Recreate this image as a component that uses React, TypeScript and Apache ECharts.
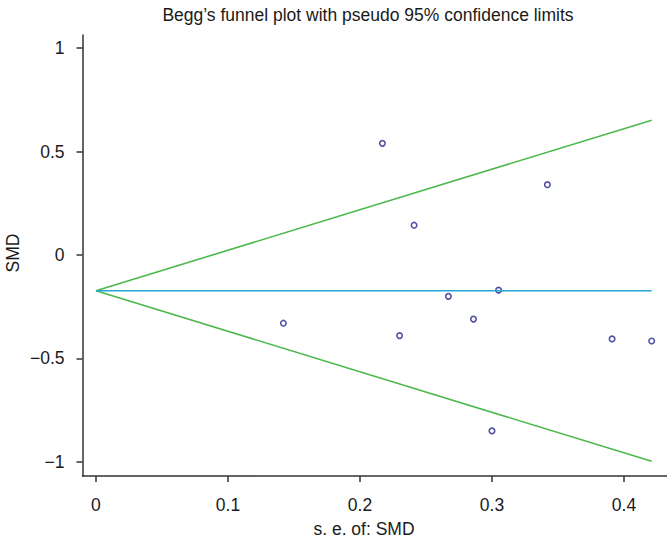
import React, { useEffect, useRef } from "react";
import * as echarts from "echarts";

// Study-level data: standard error of SMD and SMD
const seValues = [0.142, 0.217, 0.230, 0.241, 0.267, 0.286, 0.300, 0.305, 0.342, 0.391, 0.421];
const smdValues = [-0.33, 0.54, -0.39, 0.144, -0.20, -0.31, -0.851, -0.17, 0.34, -0.406, -0.416];
// Pooled (fixed) estimate
const pooledSMD = -0.173;
const zCrit = 1.96;

const xTicks = [0, 0.1, 0.2, 0.3, 0.4];
const yTicks = [-1, -0.5, 0, 0.5, 1];

const titleText = "Begg\u2019s funnel plot with pseudo 95% confidence limits";
const xName = "s. e. of: SMD";
const yName = "SMD";

const FONT = "'Liberation Sans', Arial, Helvetica, sans-serif";

export default function App() {
  const ref = useRef<HTMLDivElement>(null);

  useEffect(() => {
    if (!ref.current) return;
    const chart = echarts.init(ref.current, undefined, { renderer: "svg" });
    const seMax = Math.max(...seValues);
    const upper = [
      [0, pooledSMD],
      [seMax, pooledSMD + zCrit * seMax],
    ];
    const lower = [
      [0, pooledSMD],
      [seMax, pooledSMD - zCrit * seMax],
    ];
    const center = [
      [0, pooledSMD],
      [seMax, pooledSMD],
    ];
    const pts = seValues.map((s, i) => [s, smdValues[i]]);
    const fmt = (v: number) => (v < 0 ? "\u2212" + String(-v) : String(v));

    chart.setOption({
      animation: false,
      backgroundColor: "#ffffff",
      grid: { left: 82.5, right: 0, top: 35, bottom: 62, containLabel: false },
      xAxis: {
        type: "value",
        min: -0.0102,
        max: 0.4326,
        splitLine: { show: false },
        axisLine: { show: true, onZero: false, lineStyle: { color: "#333333", width: 1.5 } },
        axisTick: {
          show: true,
          length: 6,
          customValues: xTicks,
          lineStyle: { color: "#333333", width: 1.5 },
        },
        axisLabel: {
          customValues: xTicks,
          formatter: (v: number) => fmt(v),
          margin: 20,
          fontSize: 17.5,
          color: "#1a1a1a",
          fontFamily: FONT,
        },
      },
      yAxis: {
        type: "value",
        min: -1.069,
        max: 1.064,
        splitLine: { show: false },
        axisLine: { show: true, onZero: false, lineStyle: { color: "#333333", width: 1.5 } },
        axisTick: {
          show: true,
          length: 6,
          customValues: yTicks,
          lineStyle: { color: "#333333", width: 1.5 },
        },
        axisLabel: {
          customValues: yTicks,
          formatter: (v: number) => fmt(v),
          margin: 18,
          fontSize: 17.5,
          color: "#1a1a1a",
          fontFamily: FONT,
        },
      },
      graphic: [
        {
          type: "text",
          x: 368,
          y: 15,
          style: {
            text: titleText,
            fontSize: 17.5,
            fontFamily: FONT,
            fill: "#1a1a1a",
            textAlign: "center",
            textVerticalAlign: "middle",
          },
        },
        {
          type: "text",
          x: 364,
          y: 529,
          style: {
            text: xName,
            fontSize: 17.5,
            fontFamily: FONT,
            fill: "#1a1a1a",
            textAlign: "center",
            textVerticalAlign: "middle",
          },
        },
        {
          type: "text",
          x: 13,
          y: 253,
          rotation: Math.PI / 2,
          style: {
            text: yName,
            fontSize: 17.5,
            fontFamily: FONT,
            fill: "#1a1a1a",
            textAlign: "center",
            textVerticalAlign: "middle",
          },
        },
      ],
      series: [
        {
          type: "line",
          data: upper,
          symbol: "none",
          lineStyle: { color: "#4cb84c", width: 1.6 },
          silent: true,
        },
        {
          type: "line",
          data: lower,
          symbol: "none",
          lineStyle: { color: "#4cb84c", width: 1.6 },
          silent: true,
        },
        {
          type: "line",
          data: center,
          symbol: "none",
          lineStyle: { color: "#23a6d5", width: 1.6 },
          silent: true,
        },
        {
          type: "scatter",
          data: pts,
          symbol: "circle",
          symbolSize: 5.5,
          itemStyle: { color: "#ffffff", borderColor: "#25258f", borderWidth: 1.6 },
        },
      ],
    });
    return () => chart.dispose();
  }, []);

  return (
    <div
      ref={ref}
      style={{ position: "absolute", left: 0, top: 0, width: 667, height: 538 }}
    />
  );
}
